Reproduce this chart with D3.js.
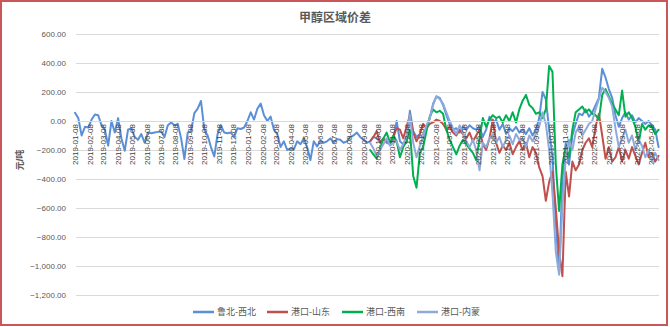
<!DOCTYPE html>
<html>
<head>
<meta charset="utf-8">
<script src="https://cdn.jsdelivr.net/npm/d3@7/dist/d3.min.js"></script>
<style>
  html, body { margin: 0; padding: 0; background: #fff; }
  svg { display: block; }
  text { font-family: "Liberation Sans", Arial, "Noto Sans CJK SC", sans-serif; }
</style>
</head>
<body>
<svg id="chart" width="670" height="327"></svg>
<script>
// Weekly methanol regional price spreads, 元/吨
const startDate = "2019-01-08";

const luBeiXiBei = [
  57, 20, -100, -40, -45, 10, 45, 40, -30, -60, -170, 0, -80, 20, -120, -205, -60, -50, -110, -130,
  -90, -150, -80, -85, -80, -75, -70, -110, -30, -10, -30, -20, -120, -262, -80, -70, 55, 85, 138, -60,
  -100, -180, -245, -90, -30, -80, -85, -80, -110, -50, -55, -45, 0, 60, 10, 85, 120, 40, 0, 30,
  -60, -90, -180, -140, -200, -190, -195, -140, -160, -120, -180, -270, -140, -175, -140, -150, -140, -120, -150, -125,
  -130, -150, -140, -110, -100, -80, -110, -130, -150, -140, -110, -120, -140, -130, -150, -160, -130, 0, -140, -160,
  -150, 70, -70, -110, -90, -120, -40, 20, 120, 170, 160, 110, 40, -20, -60, -50, -80, -40, -60, -30,
  -50, -60, -40, -110, -60, 30, -20, 10, -60, -20, -90, -50, -70, -40, -80, -60, -90, -50, -100, -60,
  20, 200, 150, -60, -250, -700, -1050, -400, -150, -300, -100, -20, 50, 40, 80, 30, 60, 110, 160, 360,
  300, 220, 160, 40, -40, 20, 60, 10, 40, -10, 20, 0, -20, 0, -30, -60, -180
];

// the three port spreads start in week 89 (late September 2020)
const portStartWeek = 89;

const gangKouShanDong = [
  -140, -110, -70, -150, -120, -140, -150, -110, -50, -60, -120, -40, 40, -80, -140, -90, -20, -50, -20, -10,
  10, 0, -20, -60, -40, -80, -100, -60, -90, -120, -80, -140, -100, -60, -160, -200, -120, 10, -150, -220,
  -170, -200, -150, -230, -180, -140, -200, -150, -250, -180, -220, -320, -380, -550, -420, -350, -600, -900, -1070, -350,
  -520, -280, -340, -300, -200, -150, -120, -180, -40, 50, -100, -260, -180, -280, -250, -180, -280, -200, -260, -180,
  -240, -300, -220, -150, -250, -220, -280, -240
];

const gangKouXiNan = [
  -200, -230, -260, -190, -120, -80, -150, -100, -140, -250, -180, -140, -60, -380, -460, -220, -180, -70, 30, 80,
  60, 70, 50, -60, -130, -180, -230, -170, -130, -160, -190, -220, -270, -120, 20, -40, 10, 40, 20, 30,
  -10, 40, 0, 60, -10, 80, 140, 180, 110, 90, 50, 60, 20, 80, 380, 340, -300, -620, -300, -180,
  -250, -60, 60, 80, 100, 60, 80, 50, 40, 10, 180, 220, 170, 120, 80, 40, 210, 30, 60, 20,
  -40, -150, -20, -60, -30, -40, -90, -60
];

const gangKouNeiMeng = [
  -150, -190, -240, -200, -160, -120, -170, -150, -140, -200, -160, -100, 40, -150, -250, -170, -110, -30, 20, 110,
  170, 150, 120, 60, 0, -50, -90, -30, -80, -140, -180, -130, -200, -340, -150, -180, -120, -90, -150, -110,
  -180, -130, -100, -160, -90, -130, -120, -180, -100, -140, -90, -40, 60, -20, -200, -500, -900, -1060, -600, -250,
  -130, -200, -80, -40, -100, -60, -20, 0, 80, 150, 230, 200, 160, 100, -50, -180, -120, -60, -150, -100,
  -200, -130, -170, -250, -200, -280, -220, -270
];

const seriesNames = ["鲁北-西北", "港口-山东", "港口-西南", "港口-内蒙"];
const seriesColors = ["#5b8fd7", "#c0504d", "#00b050", "#8eaadb"];
const seriesValues = [luBeiXiBei, gangKouShanDong, gangKouXiNan, gangKouNeiMeng];
const seriesStart = [0, portStartWeek, portStartWeek, portStartWeek];

const monthLabels = [
  "2019-01-08", "2019-02-08", "2019-03-08", "2019-04-08", "2019-05-08", "2019-06-08", "2019-07-08", "2019-08-08",
  "2019-09-08", "2019-10-08", "2019-11-08", "2019-12-08", "2020-01-08", "2020-02-08", "2020-03-08", "2020-04-08",
  "2020-05-08", "2020-06-08", "2020-07-08", "2020-08-08", "2020-09-08", "2020-10-08", "2020-11-08", "2020-12-08",
  "2021-01-08", "2021-02-08", "2021-03-08", "2021-04-08", "2021-05-08", "2021-06-08", "2021-07-08", "2021-08-08",
  "2021-09-08", "2021-10-08", "2021-11-08", "2021-12-08", "2022-01-08", "2022-02-08", "2022-03-08", "2022-04-08",
  "2022-05-08"
];

const yTicks = [600, 400, 200, 0, -200, -400, -600, -800, -1000, -1200];

const parse = d3.timeParse("%Y-%m-%d");
const t0 = parse(startDate);
const weekDate = i => d3.timeDay.offset(t0, 7 * i);

const svg = d3.select("#chart");
const W = 670, H = 327;

// chart border
svg.append("rect")
  .attr("x", 1).attr("y", 1).attr("width", W - 4).attr("height", H - 3)
  .attr("fill", "#fff").attr("stroke", "#c9575a").attr("stroke-width", 2);

const plot = { left: 76, right: 659, top: 34, bottom: 295 };

const x = d3.scaleTime()
  .domain([t0, parse("2022-05-08")])
  .range([75, 651]);

const y = d3.scaleLinear()
  .domain([-1200, 600])
  .range([plot.bottom, plot.top]);

// title
svg.append("text")
  .attr("x", 335).attr("y", 22)
  .attr("text-anchor", "middle")
  .attr("font-size", 12).attr("font-weight", "bold")
  .attr("fill", "#595959")
  .text("甲醇区域价差");

// horizontal gridlines and y labels
const yAxis = d3.axisLeft(y)
  .tickValues(yTicks)
  .tickSize(-(plot.right - plot.left))
  .tickPadding(10)
  .tickFormat(d3.format(",.2f"));

const gy = svg.append("g")
  .attr("transform", `translate(${plot.left},0)`)
  .call(yAxis);
gy.select(".domain").remove();
gy.selectAll(".tick line").attr("stroke", "#d9d9d9").attr("stroke-width", 1);
gy.selectAll(".tick text")
  .attr("fill", "#595959").attr("font-size", 8)
  .attr("font-family", "'Liberation Sans', Arial, sans-serif");

// y axis title
svg.append("text")
  .attr("transform", "translate(23,160) rotate(-90)")
  .attr("text-anchor", "middle")
  .attr("font-size", 9).attr("font-weight", "bold")
  .attr("fill", "#595959")
  .text("元/吨");

// series lines
const line = d3.line()
  .x(d => x(d.date))
  .y(d => y(d.value))
  .curve(d3.curveLinear);

const seriesData = seriesValues.map((vals, s) =>
  vals.map((v, k) => ({ date: weekDate(seriesStart[s] + k), value: v })));

svg.append("g")
  .selectAll("path")
  .data(seriesData)
  .join("path")
  .attr("d", line)
  .attr("fill", "none")
  .attr("stroke", (d, i) => seriesColors[i])
  .attr("stroke-width", 2)
  .attr("stroke-linejoin", "round")
  .attr("stroke-linecap", "round");

// category labels sit on the zero line
const xAxis = d3.axisBottom(x)
  .tickValues(monthLabels.map(parse))
  .tickSize(0)
  .tickFormat(d3.timeFormat("%Y-%m-%d"));

const gx = svg.append("g")
  .attr("transform", `translate(0,${y(0)})`)
  .call(xAxis);
gx.select(".domain").attr("stroke", "#d9d9d9");
gx.selectAll(".tick text")
  .attr("fill", "#404040").attr("font-size", 8)
  .attr("font-family", "'Liberation Sans', Arial, sans-serif")
  .attr("text-anchor", "end")
  .attr("transform", "rotate(-90)")
  .attr("x", -3).attr("y", 0).attr("dy", "0.32em");

// legend
const legendX = [193, 267, 342, 417];
const lg = svg.append("g");
seriesNames.forEach((name, i) => {
  lg.append("line")
    .attr("x1", legendX[i]).attr("x2", legendX[i] + 21)
    .attr("y1", 312).attr("y2", 312)
    .attr("stroke", seriesColors[i]).attr("stroke-width", 2.5);
  lg.append("text")
    .attr("x", legendX[i] + 24).attr("y", 315)
    .attr("font-size", 9).attr("fill", "#595959")
    .text(name);
});
</script>
</body>
</html>
